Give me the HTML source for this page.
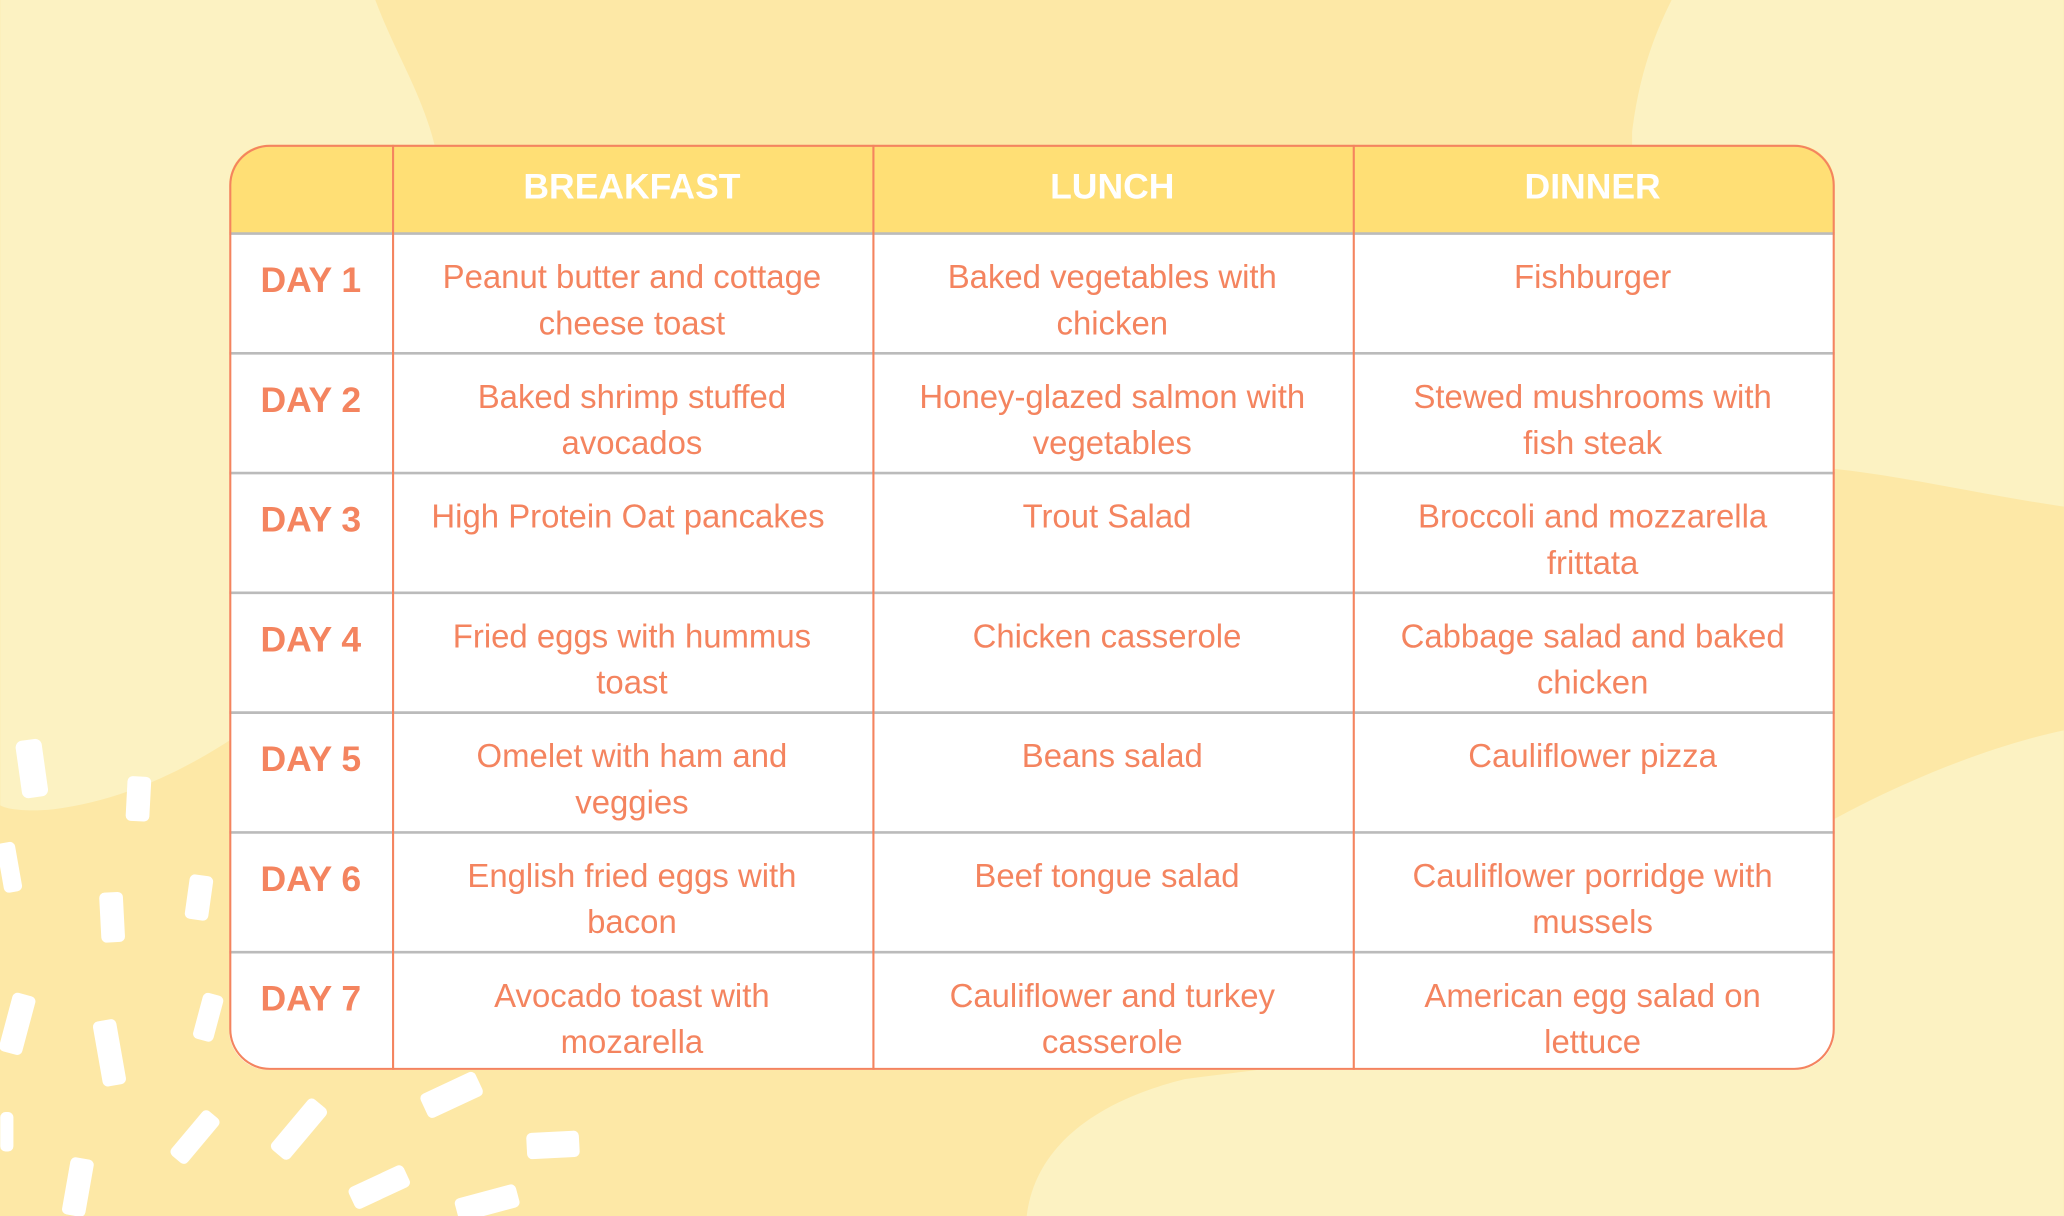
<!DOCTYPE html>
<html><head><meta charset="utf-8"><style>html,body{margin:0;padding:0;width:2064px;height:1216px;overflow:hidden;background:#fde8a6}</style></head>
<body>
<svg width="2064" height="1216" viewBox="0 0 1568 924" xmlns="http://www.w3.org/2000/svg" style="display:block">
<rect width="1568" height="924" fill="#fde8a6"/>
<path d="M0,0 L285,0 C300,40 320,70 330,110 L330,420 C260,500 160,600 40,615 C20,617 5,615 0,612 Z" fill="#fcf2c2"/>
<path d="M1270,0 L1568,0 L1568,385 C1500,375 1440,360 1380,355 L1240,355 L1240,100 C1245,60 1255,30 1270,0 Z" fill="#fcf2c2"/>
<path d="M780,924 C785,880 820,840 900,820 C1050,800 1250,790 1380,630 C1450,590 1520,565 1568,555 L1568,924 Z" fill="#fcf2c2"/>
<g fill="#fff">
<rect x="14" y="562" width="20" height="44" rx="5" transform="rotate(-8 24 584)"/>
<rect x="96" y="590" width="18" height="34" rx="4" transform="rotate(3 105 607)"/>
<rect x="76" y="678" width="18" height="38" rx="4" transform="rotate(-3 85 697)"/>
<rect x="142" y="665" width="18" height="34" rx="4" transform="rotate(8 151 682)"/>
<rect x="0" y="640" width="14" height="38" rx="4" transform="rotate(-10 7 659)"/>
<rect x="4" y="755" width="18" height="46" rx="4" transform="rotate(15 13 778)"/>
<rect x="74" y="775" width="18" height="50" rx="4" transform="rotate(-10 83 800)"/>
<rect x="150" y="755" width="16" height="36" rx="4" transform="rotate(15 158 773)"/>
<rect x="50" y="880" width="18" height="44" rx="4" transform="rotate(10 59 902)"/>
<rect x="140" y="842" width="16" height="44" rx="4" transform="rotate(40 148 864)"/>
<rect x="218" y="833" width="18" height="50" rx="4" transform="rotate(40 227 858)"/>
<rect x="320" y="822" width="46" height="20" rx="4" transform="rotate(-25 343 832)"/>
<rect x="400" y="860" width="40" height="20" rx="4" transform="rotate(-3 420 870)"/>
<rect x="265" y="893" width="46" height="18" rx="4" transform="rotate(-25 288 902)"/>
<rect x="346" y="905" width="48" height="18" rx="4" transform="rotate(-15 370 914)"/>
<rect x="0" y="845" width="10" height="30" rx="4"/>
</g>
<defs><clipPath id="c"><rect x="174" y="110" width="1220" height="703" rx="30"/></clipPath></defs>
<g clip-path="url(#c)">
<rect x="174" y="110" width="1220" height="703" fill="#fff"/>
<rect x="174" y="110" width="1220" height="67" fill="#ffdf75"/>
<g stroke="#bbbbbb" stroke-width="2">
<line x1="174" y1="177.5" x2="1394" y2="177.5"/>
<line x1="174" y1="268.5" x2="1394" y2="268.5"/>
<line x1="174" y1="359.5" x2="1394" y2="359.5"/>
<line x1="174" y1="450.5" x2="1394" y2="450.5"/>
<line x1="174" y1="541.5" x2="1394" y2="541.5"/>
<line x1="174" y1="632.5" x2="1394" y2="632.5"/>
<line x1="174" y1="723.5" x2="1394" y2="723.5"/>
</g>
<g stroke="#f4845f" stroke-width="1.6">
<line x1="298.5" y1="110" x2="298.5" y2="813"/>
<line x1="663.5" y1="110" x2="663.5" y2="813"/>
<line x1="1028.5" y1="110" x2="1028.5" y2="813"/>
</g>
</g>
<rect x="174.8" y="110.8" width="1218.4" height="701.4" rx="30" fill="none" stroke="#f4845f" stroke-width="1.6"/>
<g font-family="Liberation Sans, sans-serif" font-weight="bold" font-size="27" fill="#fff" text-anchor="middle">
<text x="480" y="151">BREAKFAST</text><text x="845" y="151">LUNCH</text><text x="1210" y="151">DINNER</text>
</g>
<g font-family="Liberation Sans, sans-serif" font-weight="bold" font-size="27" fill="#f4845f" text-anchor="middle">
<text x="236" y="222">DAY 1</text><text x="236" y="313">DAY 2</text><text x="236" y="404">DAY 3</text><text x="236" y="495">DAY 4</text><text x="236" y="586">DAY 5</text><text x="236" y="677">DAY 6</text><text x="236" y="768">DAY 7</text>
</g>
<g font-family="Liberation Sans, sans-serif" font-size="25" fill="#f4845f" text-anchor="middle">
<text x="480" y="219">Peanut butter and cottage</text><text x="480" y="254">cheese toast</text>
<text x="845" y="219">Baked vegetables with</text><text x="845" y="254">chicken</text>
<text x="1210" y="219">Fishburger</text>
<text x="480" y="310">Baked shrimp stuffed</text><text x="480" y="345">avocados</text>
<text x="845" y="310">Honey-glazed salmon with</text><text x="845" y="345">vegetables</text>
<text x="1210" y="310">Stewed mushrooms with</text><text x="1210" y="345">fish steak</text>
<text x="477" y="401">High Protein Oat pancakes</text>
<text x="841" y="401">Trout Salad</text>
<text x="1210" y="401">Broccoli and mozzarella</text><text x="1210" y="436">frittata</text>
<text x="480" y="492">Fried eggs with hummus</text><text x="480" y="527">toast</text>
<text x="841" y="492">Chicken casserole</text>
<text x="1210" y="492">Cabbage salad and baked</text><text x="1210" y="527">chicken</text>
<text x="480" y="583">Omelet with ham and</text><text x="480" y="618">veggies</text>
<text x="845" y="583">Beans salad</text>
<text x="1210" y="583">Cauliflower pizza</text>
<text x="480" y="674">English fried eggs with</text><text x="480" y="709">bacon</text>
<text x="841" y="674">Beef tongue salad</text>
<text x="1210" y="674">Cauliflower porridge with</text><text x="1210" y="709">mussels</text>
<text x="480" y="765">Avocado toast with</text><text x="480" y="800">mozarella</text>
<text x="845" y="765">Cauliflower and turkey</text><text x="845" y="800">casserole</text>
<text x="1210" y="765">American egg salad on</text><text x="1210" y="800">lettuce</text>
</g>
</svg>
</body></html>
